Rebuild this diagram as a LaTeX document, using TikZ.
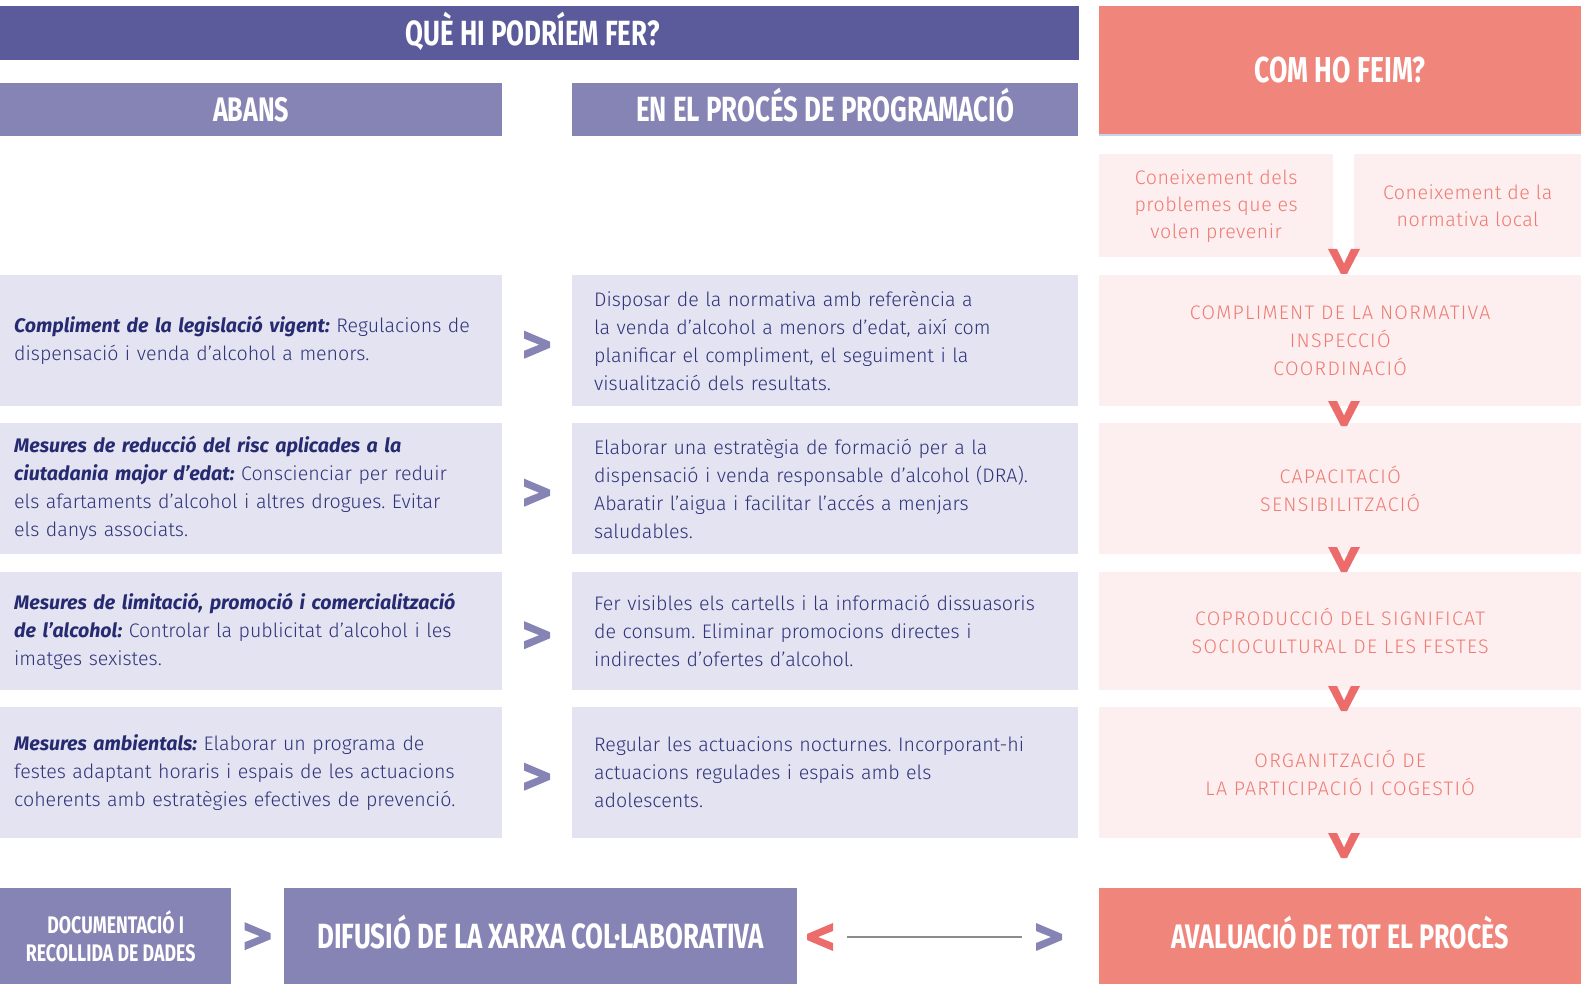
\documentclass[tikz,border=0pt]{standalone}
\usepackage{fontspec}
\setmainfont{Fira Sans}[UprightFont={* Light}, BoldFont={* Bold}, BoldItalicFont={* Bold Italic}]
\usetikzlibrary{calc}
\definecolor{hdark}{RGB}{91,90,154}
\definecolor{hmid}{RGB}{134,132,180}
\definecolor{rowfill}{RGB}{227,227,241}
\definecolor{coralhd}{RGB}{240,133,124}
\definecolor{pinkfill}{RGB}{253,239,239}
\definecolor{coraltxt}{RGB}{238,123,115}
\definecolor{coralv}{RGB}{236,107,107}
\definecolor{navytxt}{RGB}{47,52,121}
\definecolor{navyb}{RGB}{38,42,112}
\definecolor{lblue}{RGB}{200,210,235}
\definecolor{lngray}{RGB}{140,140,140}
\newcommand{\hd}[2]{{\fontsize{#1}{#1}\selectfont\bfseries\scalebox{0.74}[1]{#2}}}
\newcommand{\lbl}[1]{\textcolor{navyb}{\bfseries\itshape #1}}
\frenchspacing

\begin{document}
\begin{tikzpicture}[x=1pt, y=-1pt, % {{{
  hdrbox/.style={anchor=north west, inner sep=0pt, text=white, align=center},
  hdrline/.style={hdrbox, text height=24pt, text depth=0pt},
  leftbox/.style={anchor=north west, fill=rowfill, minimum width=502pt, text width=474pt,
    inner xsep=14pt, inner ysep=0pt, align=left, text=navytxt, font=\fontsize{19.6}{28}\selectfont},
  midbox/.style={leftbox, minimum width=506pt, text width=462pt, inner xsep=22pt},
  rightbox/.style={anchor=north west, fill=pinkfill, minimum width=482pt, inner sep=0pt,
    align=center, text=coraltxt, font=\fontsize{19.6}{28}\selectfont\addfontfeatures{LetterSpace=6.5}},
  knowbox/.style={rightbox, minimum height=103pt, font=\fontsize{19.6}{27}\selectfont\addfontfeatures{LetterSpace=2.5}},
  gtchev/.pic={\fill (-13,-14) -- (13,-3) -- (13,3) -- (-13,14) -- (-13,6) -- (2,0) -- (-13,-6) -- cycle;},
  vchev/.pic={\fill[coralv] (-16,-12.5) -- (-7,-12.5) -- (0,2) -- (7,-12.5) -- (16,-12.5) -- (3,12.5) -- (-3,12.5) -- cycle;}
]
\useasboundingbox (0,0) rectangle (1587,984);
% headers
\node[hdrline, fill=hdark, minimum width=1079pt, minimum height=54pt] (qhead) at (0,6) {\hd{35}{QUÈ HI PODRÍEM FER?}\hspace*{14pt}};
\node[hdrline, fill=coralhd, minimum width=482pt, minimum height=129pt] (comhead) at (1099,6) {\hd{36}{COM HO FEIM?}};
\draw[lblue, line width=2pt] (comhead.south west) -- (comhead.south east);
\node[hdrline, fill=hmid, minimum width=502pt, minimum height=53pt] (abans) at (0,83) {\hd{34}{ABANS}};
\node[hdrline, fill=hmid, minimum width=506pt, minimum height=53pt] (proces) at (572,83) {\hd{35}{EN EL PROCÉS DE PROGRAMACIÓ}};
% coneixement
\node[knowbox, minimum width=234pt] (con1) at (1099,154) {Coneixement dels\\problemes que es\\volen prevenir};
\node[knowbox, minimum width=227pt] (con2) at (1354,154) {Coneixement de la\\normativa local};

% row 1
\node[leftbox, minimum height=131pt] (left1) at (0,275) {\lbl{Compliment de la legislació vigent:} Regulacions de\\dispensació i venda d’alcohol a menors.};
\node[midbox, minimum height=131pt] (mid1) at (572,275) {Disposar de la normativa amb referència a\\la venda d’alcohol a menors d’edat, així com\\planificar el compliment, el seguiment i la\\visualització dels resultats.};
\node[rightbox, minimum height=131pt] (right1) at (1099,275) {COMPLIMENT DE LA NORMATIVA\\INSPECCIÓ\\COORDINACIÓ};
% row 2
\node[leftbox, minimum height=131pt] (left2) at (0,423) {\lbl{Mesures de reducció del risc aplicades a la}\\\lbl{ciutadania major d’edat:} Conscienciar per reduir\\els afartaments d’alcohol i altres drogues. Evitar\\els danys associats.};
\node[midbox, minimum height=131pt] (mid2) at (572,423) {Elaborar una estratègia de formació per a la\\dispensació i venda responsable d’alcohol (DRA).\\Abaratir l’aigua i facilitar l’accés a menjars\\saludables.};
\node[rightbox, minimum height=131pt] (right2) at (1099,423) {CAPACITACIÓ\\SENSIBILITZACIÓ};
% row 3
\node[leftbox, minimum height=118pt] (left3) at (0,572) {\lbl{Mesures de limitació, promoció i comercialització}\\\lbl{de l’alcohol:} Controlar la publicitat d’alcohol i les\\imatges sexistes.};
\node[midbox, minimum height=118pt] (mid3) at (572,572) {Fer visibles els cartells i la informació dissuasoris\\de consum. Eliminar promocions directes i\\indirectes d’ofertes d’alcohol.};
\node[rightbox, minimum height=118pt] (right3) at (1099,572) {COPRODUCCIÓ DEL SIGNIFICAT\\SOCIOCULTURAL DE LES FESTES};
% row 4
\node[leftbox, minimum height=131pt] (left4) at (0,707) {\lbl{Mesures ambientals:} Elaborar un programa de\\festes adaptant horaris i espais de les actuacions\\coherents amb estratègies efectives de prevenció.};
\node[midbox, minimum height=131pt] (mid4) at (572,707) {Regular les actuacions nocturnes. Incorporant-hi\\actuacions regulades i espais amb els\\adolescents.};
\node[rightbox, minimum height=131pt] (right4) at (1099,707) {ORGANITZACIÓ DE\\LA PARTICIPACIÓ I COGESTIÓ};

% chevrons between columns
\foreach \r in {1,2,3,4} {
  \pic[hmid] at ($(left\r.east)!0.5!(mid\r.west)+(0,4)$) {gtchev};
}
\pic at (1344,261.5) {vchev};
\pic at (1344,413.5) {vchev};
\pic at (1344,559.5) {vchev};
\pic at (1344,698.5) {vchev};
\pic at (1344,845.5) {vchev};

% bottom row
\node[hdrbox, fill=hmid, minimum width=231pt, minimum height=96pt, font=\fontsize{24}{28}\selectfont] (docu) at (0,888) {\hd{24}{DOCUMENTACIÓ I}\\\hd{24}{RECOLLIDA DE DADES}\hspace*{10pt}};
\node[hdrline, fill=hmid, minimum width=513pt, minimum height=96pt] (difus) at (284,888) {\hd{35}{DIFUSIÓ DE LA XARXA COL·LABORATIVA}};
\node[hdrline, fill=coralhd, minimum width=482pt, minimum height=96pt] (aval) at (1099,888) {\hd{34}{AVALUACIÓ DE TOT EL PROCÈS}};
\pic[hmid] at ($(docu.east)!0.5!(difus.west)$) {gtchev};
\coordinate (lnl) at (847,937);
\coordinate (lnr) at (1022,937);
\pic[coralv, xscale=-1] at (820,937) {gtchev};
\pic[hmid] at (1049,937) {gtchev};
\draw[lngray, line width=2pt] (lnl) -- (lnr);
\end{tikzpicture} % }}}
\end{document}
